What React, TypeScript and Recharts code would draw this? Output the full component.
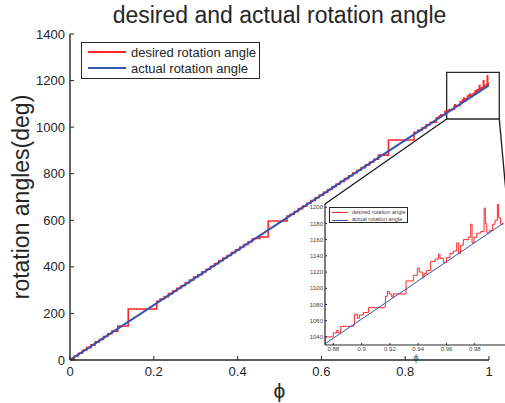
import React from "react";
import { LineChart, Line, XAxis, YAxis, Label, Legend, ReferenceArea, ReferenceLine } from "recharts";

const FONT = '"Liberation Sans", Arial, Helvetica, sans-serif';
const AXIS = "#262626";
const RED = "#ff2626";
const BLUE = "#3355b0";

const TITLE = "desired and actual rotation angle";
const seriesNames = ["desired rotation angle", "actual rotation angle"];

// axis ticks
const xTicks = [0, 0.2, 0.4, 0.6, 0.8, 1];
const yTicks = [0, 200, 400, 600, 800, 1000, 1200, 1400];
const insetXTicks = [0.88, 0.9, 0.92, 0.94, 0.96, 0.98];
const insetYTicks = [1040, 1060, 1080, 1100, 1120, 1140, 1160, 1180, 1200];

const desiredPhi = [
  0, 0.01, 0.02, 0.03, 0.04, 0.05, 0.06, 0.07, 0.08, 0.09, 0.1, 0.114, 0.139,
  0.207, 0.215, 0.225, 0.235, 0.245, 0.255, 0.265, 0.275, 0.285, 0.295, 0.305,
  0.315, 0.325, 0.335, 0.345, 0.355, 0.365, 0.375, 0.385, 0.395, 0.405, 0.415,
  0.425, 0.435, 0.44, 0.453, 0.473,
  0.518, 0.525, 0.535, 0.545, 0.555, 0.565, 0.575, 0.585, 0.595, 0.605, 0.615,
  0.625, 0.635, 0.645, 0.655, 0.665, 0.675, 0.685, 0.695, 0.705, 0.715, 0.725,
  0.736, 0.76, 0.821, 0.83, 0.84, 0.85, 0.86,
  0.8741, 0.88, 0.8824, 0.8833, 0.8852, 0.8942, 0.8949, 0.897, 0.8984, 0.9012, 0.9048,
  0.9158, 0.9168, 0.9182, 0.9196, 0.9213, 0.9224, 0.9314, 0.9366, 0.9394, 0.9408,
  0.9432, 0.9441, 0.946, 0.9488, 0.9519, 0.9543, 0.9554, 0.9578, 0.9601, 0.9625,
  0.9649, 0.9672, 0.9686, 0.97, 0.9719, 0.9755, 0.9771, 0.9781, 0.9795, 0.9814,
  0.9842, 0.9866, 0.9875, 0.9885, 0.9903, 0.9927, 0.9943, 0.996, 0.9969, 0.9983, 1,
];
const desiredAngle = [
  4, 17, 29, 42, 53, 65, 78, 88, 101, 113, 124, 146, 219,
  252, 262, 272, 285, 296, 308, 319, 331, 343, 356, 366,
  379, 390, 402, 414, 426, 438, 449, 461, 473, 485, 496,
  508, 520, 522, 528, 597,
  618, 626, 638, 650, 661, 673, 685, 697, 708, 720, 732,
  744, 756, 767, 779, 791, 803, 815, 826, 838, 850, 862,
  880, 945, 978, 986, 997, 1010, 1021,
  1040, 1045, 1048, 1045, 1053, 1055, 1068, 1063, 1067, 1070, 1076,
  1077, 1090, 1096, 1093, 1089, 1093, 1109, 1116, 1125, 1120,
  1113, 1118, 1122, 1133, 1136, 1142, 1137, 1132, 1138, 1143,
  1146, 1156, 1143, 1153, 1160, 1163, 1179, 1156, 1163, 1168,
  1170, 1199, 1180, 1168, 1171, 1179, 1184, 1220, 1187, 1179, 1181,
];

// actual rotation angle
const actualPhi = [0, 0.25, 0.5, 0.75, 1];
const actualAngle = [0, 295, 590, 885, 1180];

const desired = desiredPhi.map((phi, i) => ({ phi, angle: desiredAngle[i] }));
const actual = actualPhi.map((phi, i) => ({ phi, angle: actualAngle[i] }));

// zoom box in the main axes and the lines that lead to the inset corners
const zoomBox = { x1: 0.899, x2: 1.0246, y1: 1035, y2: 1235 };
const insetCorners = { left: 0.6086, right: 1.043, y: 670 };

const ordered = (payload: any[] = []) =>
  seriesNames.map((n) => payload.find((p) => p.value === n)).filter(Boolean);

function MainLegend({ payload }: any) {
  return (
    <div
      style={{
        width: 179,
        height: 37,
        boxSizing: "border-box",
        border: `1.3px solid ${AXIS}`,
        background: "#fff",
        paddingTop: 1.4,
        fontFamily: FONT,
        fontSize: 13,
        color: AXIS,
      }}
    >
      {ordered(payload).map((entry: any) => (
        <div key={entry.value} style={{ display: "flex", alignItems: "center", height: 16 }}>
          <span style={{ display: "inline-block", width: 38, borderTop: `2px solid ${entry.color}`, marginLeft: 6, marginRight: 5 }} />
          <span style={{ whiteSpace: "nowrap" }}>{entry.value}</span>
        </div>
      ))}
    </div>
  );
}

function InsetLegend({ payload }: any) {
  return (
    <div
      style={{
        width: 79,
        height: 16,
        boxSizing: "border-box",
        border: `0.8px solid ${AXIS}`,
        background: "#fff",
        paddingTop: 0.4,
        fontFamily: FONT,
        fontSize: 5.6,
        color: "#444",
      }}
    >
      {ordered(payload).map((entry: any) => (
        <div key={entry.value} style={{ display: "flex", alignItems: "center", height: 7.6 }}>
          <span style={{ display: "inline-block", width: 16.6, borderTop: `1px solid ${entry.color}`, marginLeft: 1.6, marginRight: 3.4 }} />
          <span style={{ whiteSpace: "nowrap", lineHeight: 1 }}>{entry.value}</span>
        </div>
      ))}
    </div>
  );
}

function InsetChart() {
  const tick = { fill: "#444", fontSize: 6, fontFamily: FONT };
  return (
    <LineChart width={230} height={165} margin={{ top: 4, right: 13, bottom: 0, left: 0 }}>
      <XAxis
        dataKey="phi"
        type="number"
        domain={[0.8741, 1.0028]}
        allowDataOverflow
        ticks={insetXTicks}
        interval={0}
        height={20}
        tickSize={-2}
        tickMargin={4}
        stroke={AXIS}
        axisLine={{ strokeWidth: 1.2 }}
        tick={tick}
      >
        <Label value="ϕ" position="insideBottom" offset={4} fill="#444" fontSize={9} fontFamily={FONT} />
      </XAxis>
      <XAxis xAxisId="top" orientation="top" type="number" domain={[0.8741, 1.0028]} allowDataOverflow ticks={insetXTicks} height={0} tick={false} tickSize={-2} stroke={AXIS} axisLine={{ strokeWidth: 1.2 }} />
      <YAxis
        type="number"
        domain={[1030, 1204]}
        allowDataOverflow
        ticks={insetYTicks}
        interval={0}
        width={35}
        tickSize={-2}
        tickMargin={4}
        stroke={AXIS}
        axisLine={{ strokeWidth: 1.2 }}
        tick={tick}
      />
      <YAxis yAxisId="right" orientation="right" type="number" domain={[1030, 1204]} allowDataOverflow ticks={insetYTicks} width={0} tick={false} tickSize={-2} stroke={AXIS} />
      <Line data={desired} dataKey="angle" name={seriesNames[0]} type="stepAfter" stroke={RED} strokeWidth={1} dot={false} isAnimationActive={false} />
      <Line data={actual} dataKey="angle" name={seriesNames[1]} type="linear" stroke={BLUE} strokeWidth={1} dot={false} isAnimationActive={false} />
      <Legend verticalAlign="middle" align="center" layout="horizontal" content={InsetLegend} wrapperStyle={{ left: 39.3, top: 7.3, width: 79, height: 16 }} />
    </LineChart>
  );
}

function MainChart() {
  const tick = { fill: AXIS, fontSize: 13, fontFamily: FONT };
  return (
    <LineChart width={505} height={403} margin={{ top: 34, right: 16, bottom: 0, left: 0 }}>
      <XAxis
        dataKey="phi"
        type="number"
        domain={[0, 1]}
        allowDataOverflow
        ticks={xTicks}
        interval={0}
        height={43}
        tickSize={-4}
        tickMargin={11}
        stroke={AXIS}
        axisLine={{ strokeWidth: 1.4 }}
        tick={tick}
      >
        <Label value="ϕ" position="insideBottom" offset={5} fill={AXIS} fontSize={21} fontFamily={FONT} />
      </XAxis>
      <XAxis xAxisId="top" orientation="top" type="number" domain={[0, 1]} allowDataOverflow ticks={xTicks} height={0} tick={false} tickSize={-4} stroke={AXIS} axisLine={{ strokeWidth: 1.4 }} />
      <YAxis
        type="number"
        domain={[0, 1400]}
        allowDataOverflow
        ticks={yTicks}
        interval={0}
        width={70}
        tickSize={-4}
        tickMargin={9}
        stroke={AXIS}
        axisLine={{ strokeWidth: 1.4 }}
        tick={tick}
      >
        <Label value="rotation angles(deg)" angle={-90} position="insideLeft" offset={21} fill={AXIS} fontSize={23} fontFamily={FONT} style={{ textAnchor: "middle" }} />
      </YAxis>
      <YAxis yAxisId="right" orientation="right" type="number" domain={[0, 1400]} allowDataOverflow ticks={yTicks} width={0} tick={false} tickSize={-4} stroke={AXIS} axisLine={{ strokeWidth: 1.4 }} />
      <Line data={desired} dataKey="angle" name={seriesNames[0]} type="stepAfter" stroke={RED} strokeWidth={1.6} dot={false} isAnimationActive={false} />
      <Line data={actual} dataKey="angle" name={seriesNames[1]} type="linear" stroke={BLUE} strokeWidth={2} dot={false} isAnimationActive={false} />
      <ReferenceArea {...zoomBox} fill="none" fillOpacity={0} stroke={AXIS} strokeWidth={1.3} ifOverflow="visible" />
      <ReferenceLine
        segment={[{ x: zoomBox.x1, y: zoomBox.y1 }, { x: insetCorners.left, y: insetCorners.y }]}
        stroke="#1a1a1a"
        strokeWidth={1.3}
        ifOverflow="visible"
      />
      <ReferenceLine
        segment={[{ x: zoomBox.x2, y: zoomBox.y1 }, { x: insetCorners.right, y: insetCorners.y }]}
        stroke="#1a1a1a"
        strokeWidth={1.3}
        ifOverflow="visible"
      />
      <Legend verticalAlign="middle" align="center" layout="horizontal" content={MainLegend} wrapperStyle={{ left: 81, top: 42, width: 179, height: 37 }} />
    </LineChart>
  );
}

export default function App() {
  return (
    <div style={{ position: "absolute", left: 0, top: 0, width: 505, height: 403, overflow: "hidden", background: "#fff" }}>
      <div style={{ position: "absolute", left: 290, top: 200 }}>
        <InsetChart />
      </div>
      <div style={{ position: "absolute", left: 0, top: 0 }}>
        <MainChart />
      </div>
      <div
        style={{
          position: "absolute",
          left: 0,
          top: 2,
          width: 559,
          textAlign: "center",
          fontFamily: FONT,
          fontSize: 23,
          color: AXIS,
          whiteSpace: "nowrap",
          pointerEvents: "none",
        }}
      >
        {TITLE}
      </div>
    </div>
  );
}
